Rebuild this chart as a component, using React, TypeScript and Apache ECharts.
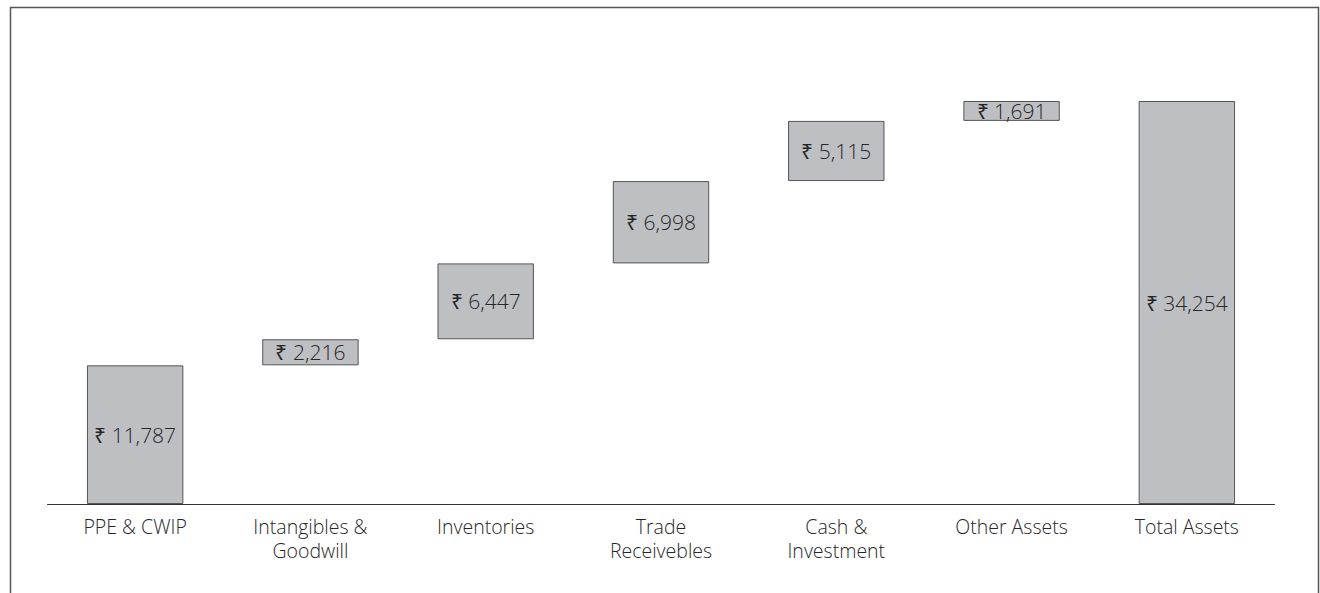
import React, { useEffect, useRef } from "react";
import * as echarts from "echarts";

const categories = [
  "PPE & CWIP",
  "Intangibles &\nGoodwill",
  "Inventories",
  "Trade\nReceivebles",
  "Cash &\nInvestment",
  "Other Assets",
  "Total Assets",
];
const values = [11787, 2216, 6447, 6998, 5115, 1691, 34254];
const isTotal = [false, false, false, false, false, false, true];

export default function App() {
  const ref = useRef<HTMLDivElement>(null);
  useEffect(() => {
    if (!ref.current) return;
    const chart = echarts.init(ref.current, undefined, { renderer: "svg" });
    let run = 0;
    const bases = values.map((v, i) => {
      if (isTotal[i]) return 0;
      const b = run;
      run += v;
      return b;
    });
    const fmt = (v: number) => "₹ " + v.toLocaleString("en-US");
    chart.setOption({
      animation: false,
      grid: { left: 47.5, right: 45.5, top: 33.4, bottom: 89, containLabel: false },
      xAxis: {
        type: "category",
        data: categories,
        axisLine: { lineStyle: { color: "#333", width: 1 } },
        axisTick: { show: false },
        axisLabel: {
          color: "#262626",
          fontSize: 19.5,
          fontWeight: 300,
          fontFamily: "Open Sans",
          lineHeight: 24,
          margin: 10,
          interval: 0,
        },
      },
      yAxis: {
        type: "value",
        min: 0,
        max: 40000,
        show: false,
        splitLine: { show: false },
      },
      graphic: [
        {
          type: "rect",
          shape: { x: 10.5, y: 7.5, width: 1308, height: 700 },
          style: { fill: "none", stroke: "#555", lineWidth: 1.5 },
          silent: true,
        },
      ],
      series: [
        {
          type: "bar",
          stack: "w",
          data: bases,
          barWidth: "55%",
          itemStyle: { color: "transparent" },
          silent: true,
        },
        {
          type: "bar",
          stack: "w",
          data: values,
          barWidth: "55%",
          itemStyle: { color: "#bebfc3", borderColor: "#555", borderWidth: 1 },
          label: {
            show: true,
            position: "inside",
            color: "#262626",
            fontSize: 21,
            fontWeight: 300,
            fontFamily: "Open Sans",
            formatter: (p: any) => fmt(p.value),
          },
        },
      ],
    });
    return () => chart.dispose();
  }, []);
  return (
    <div
      ref={ref}
      style={{ position: "absolute", left: 0, top: 0, width: 1320, height: 593, background: "#fff" }}
    />
  );
}
